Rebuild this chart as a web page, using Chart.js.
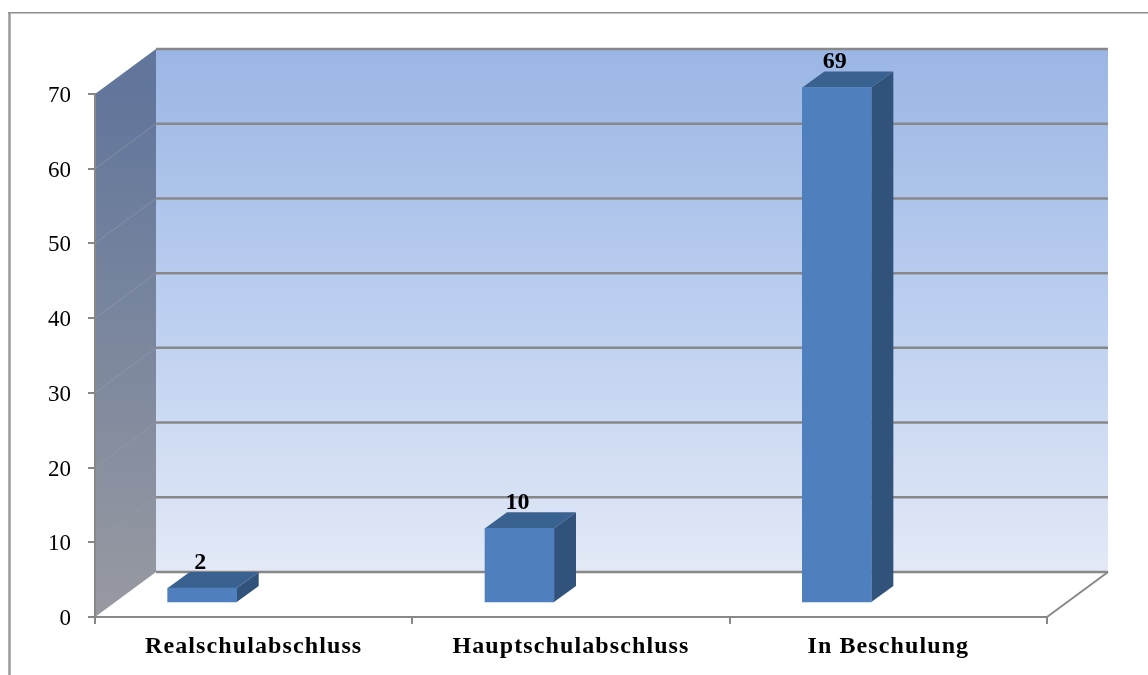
<!DOCTYPE html>
<html lang="de">
<head>
<meta charset="utf-8">
<title>Schulabschlüsse</title>
<style>
  html, body { margin: 0; padding: 0; background: #fff; }
  canvas { display: block; }
</style>
<script src="https://cdn.jsdelivr.net/npm/chart.js@4/dist/chart.umd.min.js"></script>
</head>
<body>
<canvas id="chart" width="1148" height="675"></canvas>
<script>
const categories = ['Realschulabschluss', 'Hauptschulabschluss', 'In Beschulung'];
const counts = [2, 10, 69];

const FONT = '"Liberation Serif", serif';
const AXIS = '#888888';

// Receding depth of the box around the plot, and of each column.
const boxDepth = { x: 61, y: -45 };
const barDepth = { x: 22, y: -16 };
// Where the columns stand on the floor relative to their category centre.
const barShift = { x: -51.5, y: -14 };

function poly(ctx, pts, fill) {
  ctx.beginPath();
  pts.forEach((p, i) => i ? ctx.lineTo(p[0], p[1]) : ctx.moveTo(p[0], p[1]));
  ctx.closePath();
  ctx.fillStyle = fill;
  ctx.fill();
}

function line(ctx, x1, y1, x2, y2, color, width) {
  ctx.beginPath();
  ctx.moveTo(x1, y1);
  ctx.lineTo(x2, y2);
  ctx.strokeStyle = color;
  ctx.lineWidth = width;
  ctx.stroke();
}

const box3d = {
  id: 'box3d',
  beforeDraw(chart) {
    const { ctx, chartArea: a, scales: { y } } = chart;
    const dx = boxDepth.x, dy = boxDepth.y;
    ctx.save();

    // Frame: only the top and left edges fall inside the figure
    line(ctx, 8, 12.75, chart.width, 12.75, '#8c8c8c', 1.5);
    line(ctx, 9.5, 12, 9.5, chart.height, '#989898', 2.5);

    // Back wall
    const back = ctx.createLinearGradient(0, a.top + dy, 0, a.bottom + dy);
    back.addColorStop(0, '#9bb6e4');
    back.addColorStop(0.5, '#bccff0');
    back.addColorStop(1, '#e3e9f6');
    poly(ctx, [[a.left + dx, a.top + dy], [a.right + dx, a.top + dy],
               [a.right + dx, a.bottom + dy], [a.left + dx, a.bottom + dy]], back);

    // Side wall
    const side = ctx.createLinearGradient(0, a.top, 0, a.bottom);
    side.addColorStop(0, '#62769b');
    side.addColorStop(1, '#989aa1');
    poly(ctx, [[a.left, a.top], [a.left + dx, a.top + dy],
               [a.left + dx, a.bottom + dy], [a.left, a.bottom]], side);

    // Gridlines run along the back wall and fold faintly down the side wall
    y.ticks.forEach(t => {
      const py = y.getPixelForValue(t.value);
      line(ctx, a.left + dx, py + dy, a.right + dx, py + dy, AXIS, 2.5);
      if (t.value > 0 && t.value < y.max) {
        line(ctx, a.left, py, a.left + dx, py + dy, 'rgba(150,158,175,0.55)', 1);
      }
    });

    // Right edge of the floor
    line(ctx, a.right, a.bottom, a.right + dx, a.bottom + dy, AXIS, 2);
    ctx.restore();
  },
  beforeDatasetsDraw(chart) {
    const { ctx } = chart;
    const meta = chart.getDatasetMeta(0);
    ctx.save();
    ctx.translate(barShift.x, barShift.y);
    // Top and side faces of each column, placed from the bar elements
    meta.data.forEach(bar => {
      const l = bar.x - bar.width / 2, r = bar.x + bar.width / 2;
      const dx = barDepth.x, dy = barDepth.y;
      poly(ctx, [[r, bar.y], [r + dx, bar.y + dy], [r + dx, bar.base + dy], [r, bar.base]], '#30527b');
      poly(ctx, [[l, bar.y], [l + dx, bar.y + dy], [r + dx, bar.y + dy], [r, bar.y]], '#3a6290');
    });
    // Left on the stack so the library draws the front faces in the same place
  },
  afterDatasetsDraw(chart) {
    const { ctx } = chart;
    ctx.restore();
    const meta = chart.getDatasetMeta(0);
    ctx.save();
    ctx.font = 'bold 24px ' + FONT;
    ctx.fillStyle = '#000';
    ctx.textAlign = 'center';
    ctx.textBaseline = 'alphabetic';
    meta.data.forEach((bar, i) => {
      ctx.fillText(String(counts[i]),
        bar.x + barShift.x - 2,
        bar.y + barShift.y + barDepth.y - 3);
    });
    ctx.restore();
  }
};

// Wraps the x axis label drawing so the extra tracking applies to those labels alone.
const xTracking = {
  id: 'xTracking',
  afterLayout(chart) {
    const xScale = chart.scales.x;
    const drawLabels = xScale.drawLabels.bind(xScale);
    xScale.drawLabels = function (area) {
      const ctx = chart.ctx;
      ctx.save();
      ctx.letterSpacing = '1.1px';
      drawLabels(area);
      ctx.restore();
    };
  }
};

new Chart(document.getElementById('chart'), {
  type: 'bar',
  data: {
    labels: categories,
    datasets: [{
      data: counts,
      backgroundColor: '#4f80bd',
      borderWidth: 0,
      barThickness: 69,
      clip: false
    }]
  },
  options: {
    responsive: false,
    animation: false,
    events: [],
    layout: { padding: { left: 0, right: 101, top: 94, bottom: 0 } },
    plugins: { legend: { display: false }, tooltip: { enabled: false }, title: { display: false } },
    scales: {
      x: {
        afterFit(s) { s.height = 58; },
        grid: { drawOnChartArea: false, drawTicks: true, tickLength: 7, color: AXIS, lineWidth: 2 },
        border: { color: AXIS, width: 2 },
        ticks: {
          color: '#000',
          font: { family: FONT, size: 24, weight: 'bold' },
          padding: 8,
          maxRotation: 0,
          autoSkip: false
        }
      },
      y: {
        min: 0,
        max: 70,
        afterFit(s) { s.width = 95; },
        grid: { drawOnChartArea: false, drawTicks: true, tickLength: 7, color: AXIS, lineWidth: 2 },
        border: { color: AXIS, width: 2 },
        ticks: {
          stepSize: 10,
          color: '#000',
          font: { family: FONT, size: 23 },
          padding: 17,
          labelOffset: 2
        }
      }
    }
  },
  plugins: [box3d, xTracking]
});
</script>
</body>
</html>
